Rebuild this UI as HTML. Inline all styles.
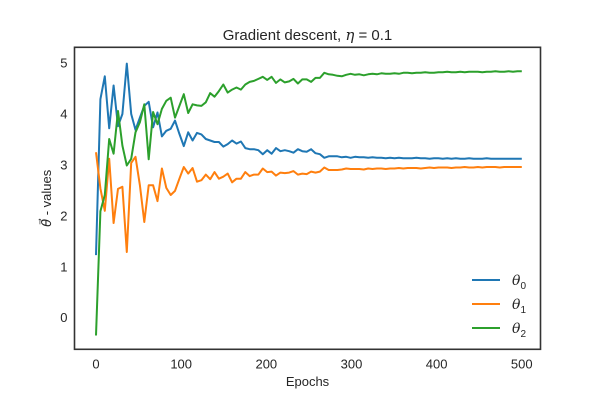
<!DOCTYPE html>
<html><head><meta charset="utf-8"><style>
body{margin:0;background:#fff;}
svg text{font-family:"Liberation Sans","DejaVu Sans",sans-serif;fill:#262626;}
</style></head><body>
<svg id="chart" width="600" height="400" xmlns="http://www.w3.org/2000/svg">
<rect width="600" height="400" fill="#fff"/>
<g id="plot"></g>
</svg>
<script>
const theta0 = [1.22,4.28,4.73,3.71,4.55,3.75,3.99,4.98,3.99,3.68,3.92,4.15,4.23,3.73,4.02,3.55,3.66,3.70,3.86,3.60,3.36,3.63,3.47,3.62,3.59,3.50,3.47,3.44,3.44,3.35,3.40,3.47,3.41,
3.45,3.32,3.30,3.30,3.28,3.20,3.28,3.21,3.32,3.26,3.28,3.26,3.23,3.30,3.26,3.25,3.30,3.22,3.20,3.13,3.16,3.16,3.16,3.14,3.15,3.13,3.15,3.14,3.14,
3.13,3.14,3.13,3.13,3.12,3.13,3.12,3.13,3.12,3.12,3.12,3.13,3.12,3.12,3.11,3.12,3.12,3.11,3.12,3.11,3.12,3.11,3.11,3.12,3.11,3.11,3.11,3.12,3.11,3.11,3.11,3.11,3.11,3.11,3.11,3.11];
const theta1 = [3.24,2.53,2.09,3.11,1.85,2.52,2.56,1.28,3.03,3.15,2.59,1.87,2.59,2.59,2.28,2.92,2.54,2.40,2.48,2.72,2.95,2.82,2.93,2.66,2.69,2.80,2.71,2.85,2.72,2.76,2.82,2.65,2.72,
2.72,2.85,2.77,2.80,2.80,2.92,2.85,2.86,2.78,2.84,2.83,2.84,2.87,2.80,2.82,2.81,2.86,2.84,2.86,2.94,2.89,2.89,2.89,2.90,2.92,2.91,2.91,2.91,2.90,
2.92,2.91,2.92,2.92,2.91,2.92,2.92,2.93,2.92,2.93,2.93,2.93,2.92,2.93,2.94,2.93,2.94,2.94,2.94,2.93,2.94,2.94,2.95,2.94,2.94,2.95,2.94,2.95,2.95,2.95,2.94,2.95,2.95,2.95,2.95,2.95];
const theta2 = [-0.36,2.08,2.40,3.50,3.21,4.05,3.37,2.98,3.11,3.63,3.83,4.18,3.10,4.03,3.79,4.09,4.25,4.31,3.92,4.15,4.38,4.01,4.18,4.16,4.15,4.22,4.40,4.33,4.44,4.57,4.41,4.47,4.51,
4.47,4.57,4.62,4.64,4.68,4.72,4.66,4.72,4.60,4.67,4.61,4.63,4.68,4.59,4.67,4.67,4.62,4.70,4.70,4.80,4.77,4.76,4.74,4.73,4.76,4.78,4.76,4.77,4.75,
4.77,4.78,4.77,4.79,4.78,4.78,4.79,4.78,4.80,4.80,4.79,4.80,4.80,4.81,4.80,4.80,4.81,4.81,4.82,4.81,4.81,4.82,4.81,4.82,4.82,4.82,4.81,4.82,4.82,4.83,4.82,4.82,4.83,4.82,4.83,4.83];
const lastEpoch = 500;
const xTicks = [0,100,200,300,400,500];
const yTicks = [0,1,2,3,4,5];
const seriesNames = ['0','1','2'];
const colors = ['#1f77b4','#ff7f0e','#2ca02c'];

const L=74.5,R=540.5,T=47.3,B=349.3;
const xMin=-25.3,xMax=522,yMin=-0.63,yMax=5.30;
const sx=v=>L+(v-xMin)/(xMax-xMin)*(R-L);
const sy=v=>B-(v-yMin)/(yMax-yMin)*(B-T);
const NS='http://www.w3.org/2000/svg';
const g=document.getElementById('plot');
function mk(tag,attrs,parent){const e=document.createElementNS(NS,tag);for(const k in attrs)e.setAttribute(k,attrs[k]);(parent||g).appendChild(e);return e;}

const t=mk('text',{x:(L+R)/2,y:40,'text-anchor':'middle','font-size':15});


t.innerHTML='Gradient descent, <tspan font-style="italic" font-family="DejaVu Serif">η</tspan> = 0.1';

xTicks.forEach(v=>{const e=mk('text',{x:sx(v),y:B+19,'text-anchor':'middle','font-size':13});e.textContent=v;

});
yTicks.forEach(v=>{const e=mk('text',{x:L-7,y:sy(v)+5,'text-anchor':'end','font-size':13});e.textContent=v;

});

const xl=mk('text',{x:(L+R)/2,y:386,'text-anchor':'middle','font-size':13});xl.textContent='Epochs';


const yl=mk('text',{x:0,y:0,'text-anchor':'middle','font-size':13,transform:`translate(51,${(T+B)/2}) rotate(-90)`});
yl.innerHTML='<tspan font-style="italic" font-family="DejaVu Serif">θ⃗</tspan> - values';



[theta0,theta1,theta2].forEach((arr,k)=>{
  const n=arr.length;
  const d=arr.map((v,i)=>(i?'L':'M')+sx(i*lastEpoch/(n-1)).toFixed(1)+','+sy(v).toFixed(1)).join(' ');
  const p=mk('path',{d,fill:'none',stroke:colors[k],'stroke-width':2,'stroke-linejoin':'round'});
  
  
});

const fr=mk('rect',{x:L,y:T,width:R-L,height:B-T,fill:'none',stroke:'#333','stroke-width':1.6});



seriesNames.forEach((n,k)=>{
  const y=280+k*24;
  const lg=mk('g',{});
  
  
  mk('line',{x1:472,x2:500,y1:y,y2:y,stroke:colors[k],'stroke-width':2},lg);
  const tx=mk('text',{x:512,y:y+5,'font-size':14},lg);
  tx.innerHTML='<tspan font-style="italic" font-family="DejaVu Serif">θ</tspan><tspan font-size="10" dy="4">'+n+'</tspan>';
});
</script>
</body></html>
